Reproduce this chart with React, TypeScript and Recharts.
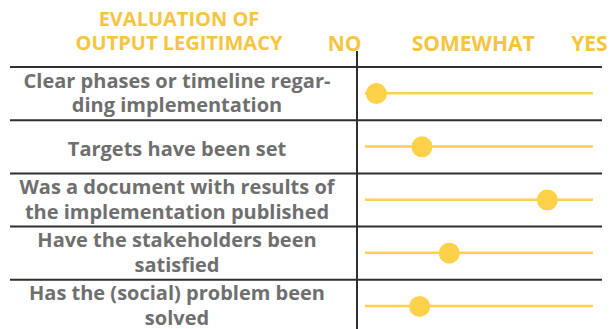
import React from 'react';
import { ComposedChart, Bar, Scatter, XAxis, YAxis } from 'recharts';

// rows of the evaluation table (label lines split with \n as in the source slide)
const criteria = [
  'Clear phases or timeline regar-\nding implementation',
  'Targets have been set',
  'Was a document with results of\nthe implementation published',
  'Have the stakeholders been\nsatisfied',
  'Has the (social) problem been\nsolved',
];
// 0 = NO, 50 = SOMEWHAT, 100 = YES
const scores = [5, 25, 80, 37, 24];
const trackEnd = [100, 100, 100, 100, 100];

const headerTicks = [-1.5, 47.5, 98.5];
const headerLabels = ['NO', 'SOMEWHAT', 'YES'];

const YELLOW = '#f5c53f';
const DOT = '#fdd14a';
const GRAY = '#6f6f6f';
const LINE = '#2f2f2f';
const FONT = '"Open Sans", sans-serif';

const W = 611;
const H = 333;
const PLOT_LEFT = 357;
const PLOT_TOP = 67;
const ROW_H = (H - PLOT_TOP) / criteria.length;

const data = criteria.map((name, i) => ({ name, score: scores[i], track: trackEnd[i] }));

const HeaderTick = (props: any) => {
  const { x, y, payload, index } = props;
  return (
    <text
      x={x}
      y={y}
      dy={-8}
      textAnchor={index === 0 ? 'end' : 'middle'}
      fill={YELLOW}
      fontFamily={FONT}
      fontWeight={700}
      fontSize={21}
    >
      {headerLabels[headerTicks.indexOf(payload.value)]}
    </text>
  );
};

const RowTick = (props: any) => {
  const { y, payload, index } = props;
  const lines = String(payload.value).split('\n');
  const first = lines.length > 1 ? -6 : 9;
  return (
    <g>
      {index === 0 && (
        <>
          <line x1={10} x2={602} y1={y - ROW_H / 2} y2={y - ROW_H / 2} stroke={LINE} strokeWidth={2} />
          <line x1={PLOT_LEFT} x2={PLOT_LEFT} y1={51} y2={y - ROW_H / 2} stroke={LINE} strokeWidth={2} />
        </>
      )}
      <line x1={10} x2={602} y1={y + ROW_H / 2} y2={y + ROW_H / 2} stroke={LINE} strokeWidth={2} />
      <text
        x={177}
        y={y + first}
        textAnchor="middle"
        fill={GRAY}
        fontFamily={FONT}
        fontWeight={700}
        fontSize={20}
      >
        {lines.map((l, i) => (
          <tspan key={i} x={177} dy={i === 0 ? 0 : 24.5}>
            {l}
          </tspan>
        ))}
      </text>
    </g>
  );
};

const Dot = (props: any) => <circle cx={props.cx} cy={props.cy} r={10.5} fill={DOT} />;

export default function App() {
  return (
    <div style={{ position: 'absolute', left: 0, top: 0, width: W, height: 329, overflow: 'hidden', background: '#fff' }}>
      <svg width={358} height={60} style={{ position: 'absolute', left: 0, top: 0 }}>
        <text x={179} textAnchor="middle" fill={YELLOW} fontFamily={FONT} fontWeight={700} fontSize={20}>
          <tspan x={179} y={26}>EVALUATION OF</tspan>
          <tspan x={179} y={50}>OUTPUT LEGITIMACY</tspan>
        </text>
      </svg>
      <ComposedChart
        width={W}
        height={H}
        data={data}
        layout="vertical"
        margin={{ top: PLOT_TOP - 30, right: 9, bottom: 0, left: 0 }}
        style={{ position: 'absolute', left: 0, top: 0 }}
      >
        <XAxis
          type="number"
          dataKey="score"
          orientation="top"
          height={30}
          domain={[-3.5, 104]}
          ticks={headerTicks}
          interval={0}
          tick={<HeaderTick />}
          axisLine={false}
          tickLine={false}
        />
        <YAxis
          type="category"
          dataKey="name"
          width={PLOT_LEFT}
          tick={<RowTick />}
          tickLine={false}
          axisLine={{ stroke: LINE, strokeWidth: 2 }}
          interval={0}
        />
        <Bar dataKey="track" barSize={2.5} fill={DOT} isAnimationActive={false} />
        <Scatter dataKey="score" fill={DOT} shape={<Dot />} isAnimationActive={false} />
      </ComposedChart>
    </div>
  );
}
